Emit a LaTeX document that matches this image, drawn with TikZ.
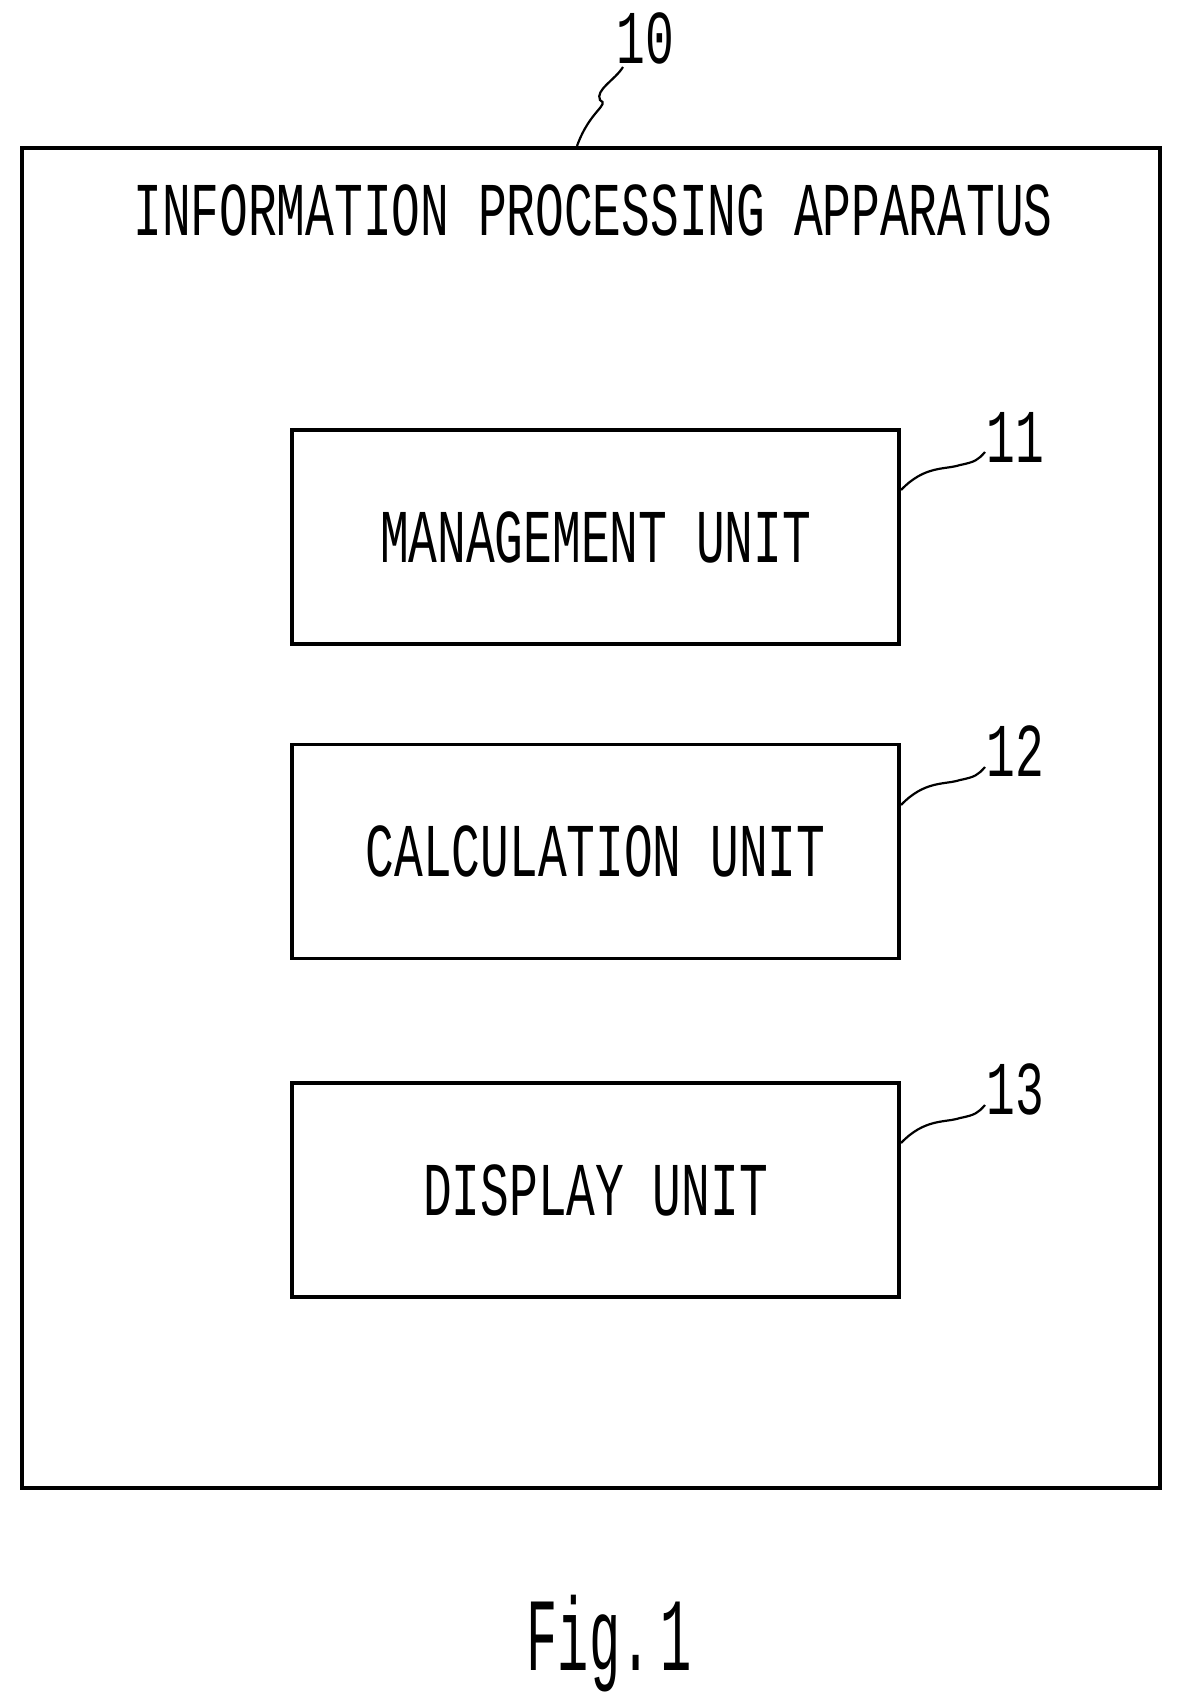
\documentclass[tikz,border=0pt]{standalone}
\usepackage{fontspec}
\setmainfont{Liberation Mono}
\newcommand{\mytxt}[1]{\fontsize{38}{40}\selectfont\scalebox{0.63}[1]{#1}}
\begin{document}
\begin{tikzpicture}[x=0.5pt,y=-0.5pt,
  unit/.style={draw,line width=1.6pt,minimum width=303.5pt,minimum height=107pt,inner sep=0pt},
  lbl/.style={inner sep=0pt},
  lead/.style={line width=1.1pt}]
\useasboundingbox (0,0) rectangle (1186,1697);
\node[draw,line width=1.6pt,minimum width=569pt,minimum height=670pt,inner sep=0pt] (app) at (591,818) {};
\node[lbl] (title) at (593,210) {\mytxt{INFORMATION PROCESSING APPARATUS}};
\node[unit] (m) at (595.5,537) {\mytxt{MANAGEMENT UNIT}};
\node[unit] (c) at (595.5,851.5) {\mytxt{CALCULATION UNIT}};
\node[unit] (d) at (595.5,1190) {\mytxt{DISPLAY UNIT}};
\node[lbl] (n10) at (645,38) {\mytxt{10}};
\node[lbl] (n11) at (1015,437) {\mytxt{11}};
\node[lbl] (n12) at (1015,751) {\mytxt{12}};
\node[lbl] (n13) at (1015,1089) {\mytxt{13}};
\node[lbl] (fig) at (609,1644) {\fontsize{52}{56}\selectfont\scalebox{0.5}[1]{Fig.\,1}};
\coordinate (a10) at (577,146);
\coordinate (b10) at (623,67);
\draw[lead] (a10) .. controls (590,110) and (610,105) .. (600,100) .. controls (595,90) and (615,80) .. (b10);
\foreach \n/\y in {m/490, c/805, d/1143}{
  \draw[lead] (901,\y) .. controls (925,\y-25) and (945,\y-20) .. (960,\y-25) .. controls (975,\y-28) and (978,\y-30) .. (985,\y-38);
}
\end{tikzpicture}
\end{document}
